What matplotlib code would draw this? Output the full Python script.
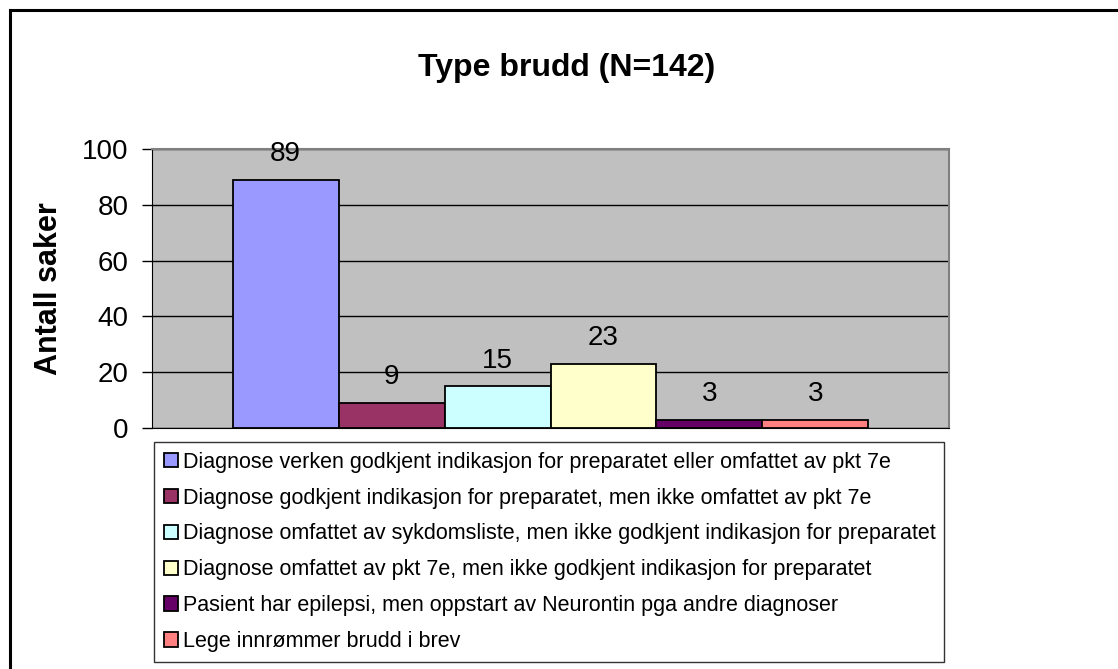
import matplotlib
matplotlib.use('Agg')
import matplotlib.pyplot as plt
from matplotlib.lines import Line2D

plt.rcParams['font.family'] = ['Liberation Sans', 'DejaVu Sans']

# data
categories = [
    "Diagnose verken godkjent indikasjon for preparatet eller omfattet av pkt 7e",
    "Diagnose godkjent indikasjon for preparatet, men ikke omfattet av pkt 7e",
    "Diagnose omfattet av sykdomsliste, men ikke godkjent indikasjon for preparatet",
    "Diagnose omfattet av pkt 7e, men ikke godkjent indikasjon for preparatet",
    "Pasient har epilepsi, men oppstart av Neurontin pga andre diagnoser",
    "Lege innrømmer brudd i brev",
]
values = [89, 9, 15, 23, 3, 3]
colors = ["#9999FF", "#993366", "#CCFFFF", "#FFFFCC", "#660066", "#FF8080"]

W, H = 1118, 669
fig = plt.figure(figsize=(W / 100, H / 100), dpi=100)

# plot area in pixels
left, right, top, bottom = 152, 949, 149, 428
ax = fig.add_axes([left / W, 1 - bottom / H, (right - left) / W, (bottom - top) / H])
ax.set_facecolor("#C0C0C0")

handles = []
for i, (v, c, lab) in enumerate(zip(values, colors, categories)):
    b = ax.bar(i, v, width=1.0, color=c, edgecolor="black", linewidth=1.3,
               label=lab, zorder=3)
    ax.bar_label(b, padding=9, fontsize=20, zorder=4)
    handles.append(b)

ax.set_xlim(-1.26, 6.26)
ax.set_ylim(0, 100)
ax.set_yticks(range(0, 101, 20))
ax.set_xticks([])
ax.tick_params(axis="y", labelsize=20, length=7, width=1, pad=10, colors="black")
ax.yaxis.grid(True, color="black", linewidth=1, zorder=1)
ax.set_axisbelow(True)

for side in ["top", "right"]:
    ax.spines[side].set_color("#808080")
    ax.spines[side].set_linewidth(1.5)
ax.spines["left"].set_color("black")
ax.spines["bottom"].set_color("black")

ax.set_ylabel("Antall saker", fontsize=22, fontweight="bold", labelpad=13)

fig.text(567 / W, 1 - 76 / H, "Type brudd (N=142)", fontsize=23,
         fontweight="bold", ha="center", va="baseline")

# legend box
lx0, lx1, ly0, ly1 = 154, 944, 442, 665
leg = fig.legend(handles=handles, labels=categories, loc="upper left",
                 bbox_to_anchor=(lx0 / W, 1 - ly1 / H, (lx1 - lx0) / W, (ly1 - ly0) / H),
                 mode="expand", fontsize=15.5, handlelength=0.65, handleheight=0.65,
                 handletextpad=0.25, labelspacing=0.69, borderaxespad=0,
                 borderpad=0.45, fancybox=False, frameon=True, edgecolor="black")
leg.get_frame().set_linewidth(1.0)

# outer chart border (left and top are visible)
fig.add_artist(Line2D([10 / W, 10 / W], [0, 1 - 10 / H], color="black", linewidth=2.2))
fig.add_artist(Line2D([10 / W, 1], [1 - 10 / H, 1 - 10 / H], color="black", linewidth=2.2))

fig.savefig("out.png", dpi=100)
